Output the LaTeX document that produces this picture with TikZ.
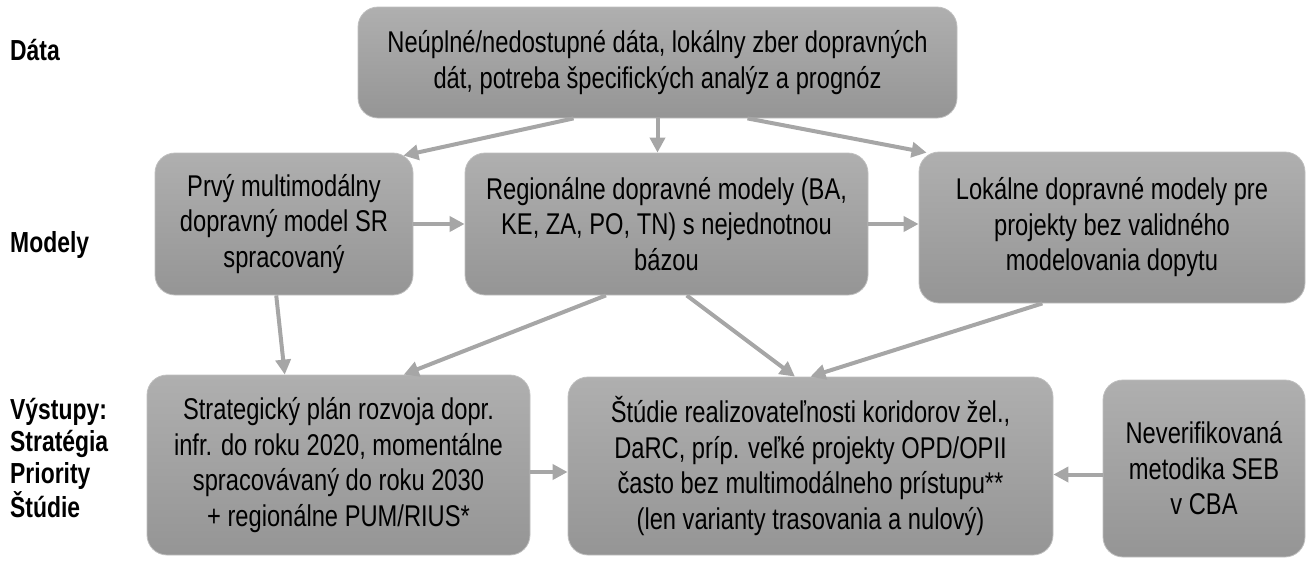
\documentclass[tikz,border=0pt]{standalone}
\usepackage{fontspec}
\setmainfont{Liberation Sans}[FakeStretch=0.79]
\usetikzlibrary{arrows.meta,calc}
\definecolor{arrgray}{HTML}{A6A6A6}
\definecolor{boxtop}{HTML}{AFAFAF}
\definecolor{boxbot}{HTML}{959595}
\definecolor{boxedge}{HTML}{BFBFBF}
\tikzset{
  box/.style={rounded corners=20pt, top color=boxtop, bottom color=boxbot, draw=boxedge, line width=0.8pt,
    inner sep=0pt, align=center, font=\fontsize{30}{35.5}\selectfont, text=black},
  conn/.style={draw=arrgray, line width=4pt, -{Triangle[length=15pt,width=15pt]}},
  lbl/.style={anchor=west, align=left, font=\bfseries\fontsize{29}{32}\selectfont, inner sep=0pt}
}
\begin{document}
\begin{tikzpicture}[x=1pt,y=-1pt]
\useasboundingbox (0,0) rectangle (1307,560);
% labels
\node[lbl] (ldata) at (10,50) {Dáta};
\node[lbl] (lmod) at (10,245) {Modely};
\node[lbl] (lout) at (10,458) {Výstupy:\\Stratégia\\Priority\\Štúdie};
% boxes
\node[box, minimum width=599pt, minimum height=111pt] (top) at (657.5,62.5)
  {Neúplné/nedostupné dáta, lokálny zber dopravných\\dát, potreba špecifických analýz a prognóz};
\node[box, minimum width=258pt, minimum height=142pt] (m1) at (284,224)
  {Prvý multimodálny\\dopravný model SR\\spracovaný};
\node[box, minimum width=403pt, minimum height=142pt] (m2) at (666.5,224)
  {Regionálne dopravné modely (BA,\\KE, ZA, PO, TN) s nejednotnou\\bázou};
\node[box, minimum width=386pt, minimum height=151pt] (m3) at (1112,227.5)
  {Lokálne dopravné modely pre\\projekty bez validného\\modelovania dopytu};
\node[box, minimum width=383pt, minimum height=180pt] (b4) at (338.5,465)
  {Strategický plán rozvoja dopr.\\infr. do roku 2020, momentálne\\spracovávaný do roku 2030\\+ regionálne PUM/RIUS*};
\node[box, minimum width=485pt, minimum height=178pt] (b5) at (810.5,466)
  {Štúdie realizovateľnosti koridorov žel.,\\DaRC, príp. veľké projekty OPD/OPII\\často bez multimodálneho prístupu**\\(len varianty trasovania a nulový)};
\node[box, minimum width=202pt, minimum height=177pt] (b6) at (1204,468.5)
  {Neverifikovaná\\metodika SEB\\v CBA};
% connectors
\draw[conn] ($(top.south west)!0.36!(top.south east)$) -- ($(m1.north east)+(-10,3)$);
\draw[conn] (top.south) -- (top.south |- m2.north);
\draw[conn] ($(top.south west)!0.65!(top.south east)$) -- ($(m3.north west)+(8,1)$);
\draw[conn] (m1.east) -- (m2.west);
\draw[conn] (m2.east) -- (m2.east -| m3.west);
\draw[conn] ($(m1.south west)!0.47!(m1.south east)$) -- ($(b4.north west)!0.36!(b4.north east)$);
\draw[conn] ($(m2.south west)!0.35!(m2.south east)$) -- ($(b4.north west)!0.67!(b4.north east)$);
\draw[conn] ($(m2.south west)!0.55!(m2.south east)$) -- ($(b5.north west)!0.468!(b5.north east)$);
\draw[conn] ($(m3.south west)!0.32!(m3.south east)$) -- ($(b5.north west)!0.5!(b5.north east)$);
\draw[conn] ($(b4.east)+(0,7)$) -- ($(b4.east -| b5.west)+(0,7)$);
\draw[conn] ($(b6.west)+(0,6)$) -- ($(b6.west -| b5.east)+(0,6)$);
\end{tikzpicture}
\end{document}
